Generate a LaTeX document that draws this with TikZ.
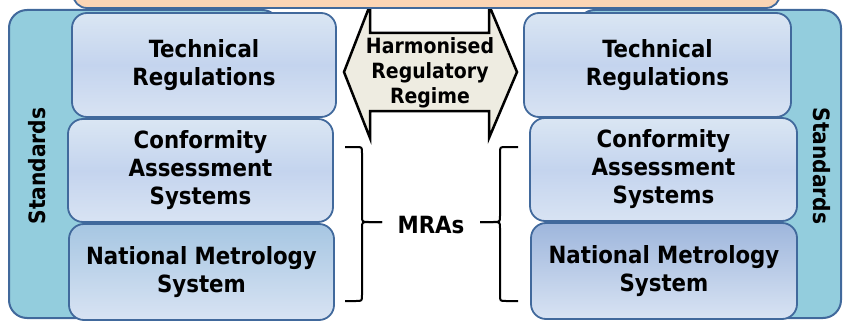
\documentclass[tikz,border=0pt]{standalone}
\usepackage{fontspec}
\setmainfont{DejaVu Sans Condensed}
\definecolor{panel}{HTML}{93CDDD}
\definecolor{edgeblue}{HTML}{41699C}
\definecolor{boxtop}{HTML}{DAE6F3}
\definecolor{boxmid}{HTML}{C4D4EE}
\definecolor{boxbot}{HTML}{D8E3F3}
\definecolor{nmstopL}{HTML}{A6C6E2}
\definecolor{nmstopR}{HTML}{9EB6DC}
\definecolor{peach}{HTML}{FBD5B5}
\definecolor{beige}{HTML}{EEECE1}
\tikzset{
  panelbox/.style={draw=edgeblue, line width=2pt, fill=panel, rounded corners=18pt},
  layerbox/.style={draw=edgeblue, line width=1.8pt, rounded corners=15pt,
    top color=boxtop, bottom color=boxbot, middle color=boxmid,
    align=center, font=\bfseries\fontsize{23.7}{28}\selectfont, text=black,
    inner sep=0pt},
  nmsbox/.style={layerbox, middle color=boxmid!70!boxbot, bottom color=boxbot},
  labeltext/.style={font=\bfseries\fontsize{23.7}{28}\selectfont, text=black, align=center, inner sep=0pt},
  bracestyle/.style={draw=black, line width=2pt},
}
\begin{document}
\begin{tikzpicture}[x=1pt,y=-1pt]
\useasboundingbox (0,0) rectangle (843,321);
\clip (0,0) rectangle (843,321);
% standards panels
\draw[panelbox] (9,10) rectangle (280,318);
\draw[panelbox] (577,10) rectangle (841,318);
\node[labeltext, font=\bfseries\fontsize{22.5}{24}\selectfont, rotate=90] (stdL) at (37,166) {Standards};
\node[labeltext, font=\bfseries\fontsize{22.5}{24}\selectfont, rotate=-90] (stdR) at (822,166) {Standards};
% left column
\node[layerbox, minimum width=264pt, minimum height=104pt] (trL) at (204,65) {Technical\\Regulations};
\node[layerbox, minimum width=265pt, minimum height=103pt] (casL) at (200.5,170.5) {Conformity\\Assessment\\Systems};
\node[nmsbox, top color=nmstopL, minimum width=265pt, minimum height=96pt] (nmsL) at (201.5,272) {National Metrology\\System};
% right column
\node[layerbox, minimum width=267pt, minimum height=104pt] (trR) at (657.5,65) {Technical\\Regulations};
\node[layerbox, minimum width=267pt, minimum height=103pt] (casR) at (663.5,169.5) {Conformity\\Assessment\\Systems};
\node[nmsbox, top color=nmstopR, minimum width=266pt, minimum height=96pt] (nmsR) at (664,271) {National Metrology\\System};
% harmonised double arrow
\draw[fill=beige, draw=black, line width=2.5pt, line join=miter]
  (344,72) -- (370,5) -- (370,33) -- (489,33) -- (489,5) -- (517,72)
  -- (489,138) -- (489,111) -- (370,111) -- (370,138) -- cycle;
\node[labeltext, font=\bfseries\fontsize{21}{25}\selectfont] (harm) at (430,73) {Harmonised\\Regulatory\\Regime};
% top orange box
\node[draw=edgeblue, line width=1.8pt, fill=peach, rounded corners=14pt,
  minimum width=707pt, minimum height=48pt, inner sep=0pt] (topbox) at (426.5,-16) {};
% MRAs and braces
\node[labeltext] (mras) at (431,225) {MRAs};
\coordinate (bLt) at (345,147);
\coordinate (bLb) at (345,301);
\coordinate (bRt) at (518,147);
\coordinate (bRb) at (518,301);
\draw[bracestyle] (bLt) -- (356,147) .. controls (362,147) .. (362,153) -- (362,216)
  .. controls (362,222) .. (369,222) -- (382,222);
\draw[bracestyle] (382,222) -- (369,222) .. controls (362,222) .. (362,228) -- (362,295)
  .. controls (362,301) .. (356,301) -- (bLb);
\draw[bracestyle] (bRt) -- (506,147) .. controls (500,147) .. (500,153) -- (500,216)
  .. controls (500,222) .. (493,222) -- (480,222);
\draw[bracestyle] (480,222) -- (493,222) .. controls (500,222) .. (500,228) -- (500,295)
  .. controls (500,301) .. (506,301) -- (bRb);
\end{tikzpicture}
\end{document}
